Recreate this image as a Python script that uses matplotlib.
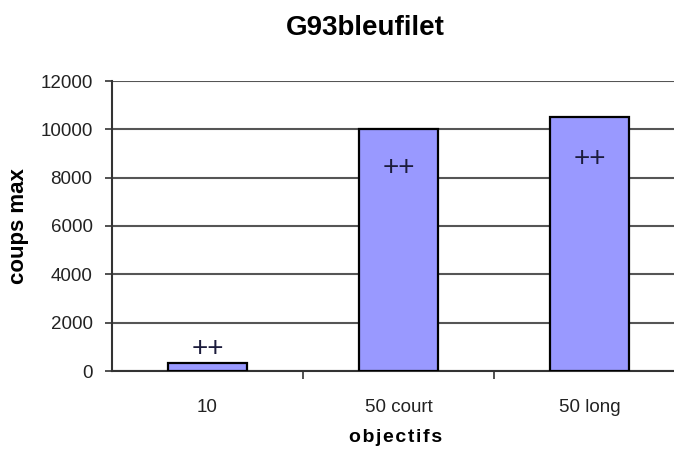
import numpy as np
import matplotlib
matplotlib.use("Agg")
import matplotlib.pyplot as plt

# Données
objectifs = ["10", "50 court", "50 long"]
coups_max = [320, 10000, 10500]
marques = ["++", "++", "++"]
marques_y = [900, 8420, 8780]

plt.rcParams['font.family'] = ['Liberation Sans', 'DejaVu Sans']

fig = plt.figure(figsize=(6.74, 4.5), dpi=100)
ax = fig.add_axes([112/674, 1-371/450, 573/674, 290/450])

x = np.arange(len(objectifs))
ax.bar(x, coups_max, width=0.41, color="#9999ff", edgecolor="black", linewidth=1.6, zorder=3)

for xi, m, my in zip(x, marques, marques_y):
    ax.text(xi, my, m, ha="center", va="center", fontsize=20, color="#1c1c3c", zorder=4)

ax.set_xlim(-0.5, 2.5)
ax.set_ylim(0, 12000)
ax.set_yticks(np.arange(0, 12001, 2000))
ax.yaxis.grid(True, color="#555555", linewidth=1.5, zorder=0)

# Graduations : étiquettes au centre, traits entre catégories
ax.set_xticks(x)
ax.set_xticklabels(objectifs, fontsize=13.5, color="#222222")
ax.tick_params(axis="x", length=0, pad=20)
ax.set_xticks([0.5, 1.5], minor=True)
ax.tick_params(axis="x", which="minor", length=6, width=1.2, color="#333333")
ax.tick_params(axis="y", length=5, width=1.2, color="#333333", labelsize=13.5, labelcolor="#222222", pad=9)

for s in ["top", "right"]:
    ax.spines[s].set_visible(False)
ax.spines["left"].set_color("#333333")
ax.spines["bottom"].set_color("#333333")
ax.spines["left"].set_linewidth(1.5)
ax.spines["bottom"].set_linewidth(1.5)

ax.set_ylabel("coups max", fontsize=16, fontweight="bold", labelpad=8)
fig.text(396/674, 1-438/450, "o b j e c t i f s".replace(" ", "\u200a"), ha="center", va="center",
         fontsize=14, fontweight="bold")
fig.text(365/674, 1-28/450, "G93bleufilet", ha="center", va="center", fontsize=20, fontweight="bold")

fig.savefig("out.png", dpi=100)
